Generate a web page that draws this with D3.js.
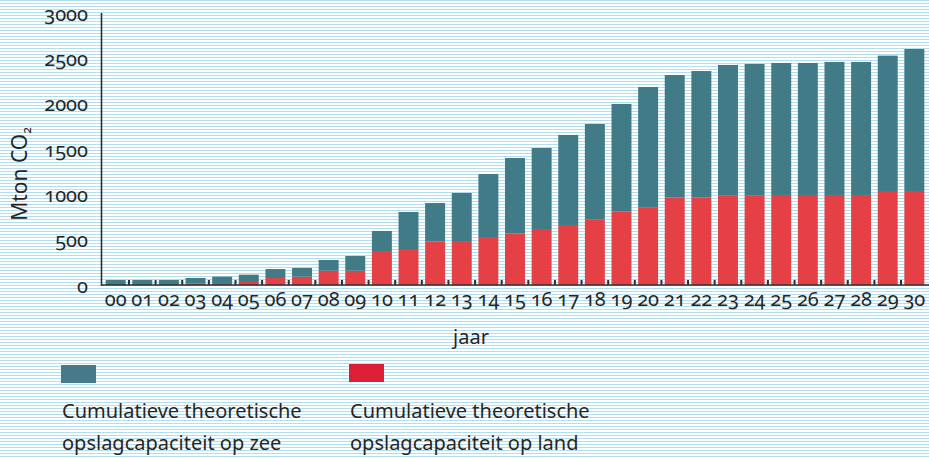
<!DOCTYPE html>
<html>
<head>
<meta charset="utf-8">
<script src="https://cdnjs.cloudflare.com/ajax/libs/d3/7.8.5/d3.min.js"></script>
<style>
    body { margin: 0; background: #fff; }
    svg { display: block; font-family: "Noto Sans", sans-serif; font-weight: 400; font-variant-numeric: oldstyle-nums; }
</style>
</head>
<body>
<div id="chart"></div>
<script>
// jaren 2000 - 2030
var years = ["00","01","02","03","04","05","06","07","08","09","10",
    "11","12","13","14","15","16","17","18","19","20",
    "21","22","23","24","25","26","27","28","29","30"];

// Mton CO2, cumulatief
var land = [0, 0, 0, 20, 22, 33, 77, 92, 158, 158, 375,
    397, 478, 485, 529, 566, 618, 662, 720, 808, 853,
    963, 963, 985, 985, 993, 993, 993, 993, 1037, 1037];
var zee = [55, 55, 55, 57, 70, 81, 99, 96, 118, 162, 221,
    408, 426, 530, 695, 835, 893, 993, 1056, 1189, 1331,
    1353, 1397, 1442, 1453, 1456, 1456, 1467, 1467, 1493, 1566];

var yTicks = [0, 500, 1000, 1500, 2000, 2500, 3000];

var legendZee = ["Cumulatieve theoretische", "opslagcapaciteit op zee"];
var legendLand = ["Cumulatieve theoretische", "opslagcapaciteit op land"];

var width = 929, height = 459;
var colZee = "#417b87", colLand = "#e44046";
var axisCol = "#2a2f33";
var textCol = "#262626";
var fontSize = "20px";

var svg = d3.select("#chart").append("svg")
    .attr("width", width)
    .attr("height", height);

// achtergrond met streepjes
var pat = svg.append("defs").append("pattern")
    .attr("id", "stripes")
    .attr("width", 6).attr("height", 3)
    .attr("patternUnits", "userSpaceOnUse");
pat.append("rect").attr("width", 6).attr("height", 3).attr("fill", "#fff");
pat.append("rect").attr("width", 6).attr("height", 1).attr("fill", "#b0dff0");

svg.append("rect")
    .attr("width", width).attr("height", height)
    .attr("fill", "url(#stripes)");

var x = d3.scaleBand()
    .domain(years)
    .range([101, 929])
    .paddingInner(0.25)
    .paddingOuter(0.176);

var y = d3.scaleLinear()
    .domain([0, 3000])
    .range([285, 13]);

var rows = years.map(function (d, i) {
    return { year: d, land: land[i], zee: zee[i] };
});
var series = d3.stack().keys(["land", "zee"])(rows);

svg.append("g").selectAll("g")
    .data(series)
    .enter().append("g")
    .attr("fill", function (d) { return d.key == "land" ? colLand : colZee; })
    .selectAll("rect")
    .data(function (d) { return d; })
    .enter().append("rect")
    .attr("x", function (d) { return x(d.data.year); })
    .attr("width", x.bandwidth())
    .attr("y", function (d) { return y(d[1]); })
    .attr("height", function (d) { return y(d[0]) - y(d[1]); });

// y as
var yAxis = svg.append("g")
    .attr("transform", "translate(101,0)")
    .call(d3.axisLeft(y).tickValues(yTicks).tickFormat(d3.format("d")).tickSize(0).tickPadding(13));
yAxis.select(".domain").remove();
yAxis.attr("font-family", null).attr("font-size", null);
yAxis.selectAll("text")
    .attr("dy", null)
    .attr("y", 7)
    .attr("fill", textCol)
    .style("font-size", fontSize);

// x as
var xAxis = svg.append("g")
    .attr("transform", "translate(0,285)")
    .call(d3.axisBottom(x).tickSize(0));
xAxis.select(".domain").remove();
xAxis.attr("font-family", null).attr("font-size", null);
xAxis.selectAll("text")
    .attr("dy", null)
    .attr("y", 21)
    .attr("fill", textCol)
    .style("font-size", fontSize);

// streepjes tussen de staven
var gap = x.step() - x.bandwidth();
svg.append("g").selectAll("line")
    .data(years.slice(0, years.length - 1))
    .enter().append("line")
    .attr("x1", function (d) { return x(d) + x.bandwidth() + gap / 2; })
    .attr("x2", function (d) { return x(d) + x.bandwidth() + gap / 2; })
    .attr("y1", 285)
    .attr("y2", 280)
    .attr("stroke", axisCol)
    .attr("stroke-width", 2);

svg.append("line")
    .attr("x1", 101).attr("x2", 929)
    .attr("y1", 285).attr("y2", 285)
    .attr("stroke", axisCol).attr("stroke-width", 1.6);
svg.append("line")
    .attr("x1", 101.5).attr("x2", 101.5)
    .attr("y1", y(3000)).attr("y2", 285.8)
    .attr("stroke", axisCol).attr("stroke-width", 1.6);

// as titels
var yl = svg.append("text")
    .attr("transform", "translate(27,174) rotate(-90)")
    .attr("text-anchor", "middle")
    .attr("fill", textCol)
    .style("font-size", "21px");
yl.append("tspan").text("Mton CO");
yl.append("tspan").attr("dy", 4).style("font-size", "12px").text("2");

svg.append("text")
    .attr("x", 471).attr("y", 344)
    .attr("text-anchor", "middle")
    .attr("fill", textCol)
    .style("font-size", fontSize)
    .text("jaar");

// legenda
function legend(x0, y0, col, lines) {
    svg.append("rect")
        .attr("x", x0).attr("y", y0)
        .attr("width", 35).attr("height", 18)
        .attr("fill", col);
    svg.append("g").selectAll("text")
        .data(lines)
        .enter().append("text")
        .attr("x", x0 + 1)
        .attr("y", function (d, i) { return 418 + i * 32; })
        .attr("fill", textCol)
        .style("font-size", fontSize)
        .text(function (d) { return d; });
}
legend(61, 365, "#457b88", legendZee);
legend(349, 364, "#dd1f35", legendLand);
</script>
</body>
</html>
